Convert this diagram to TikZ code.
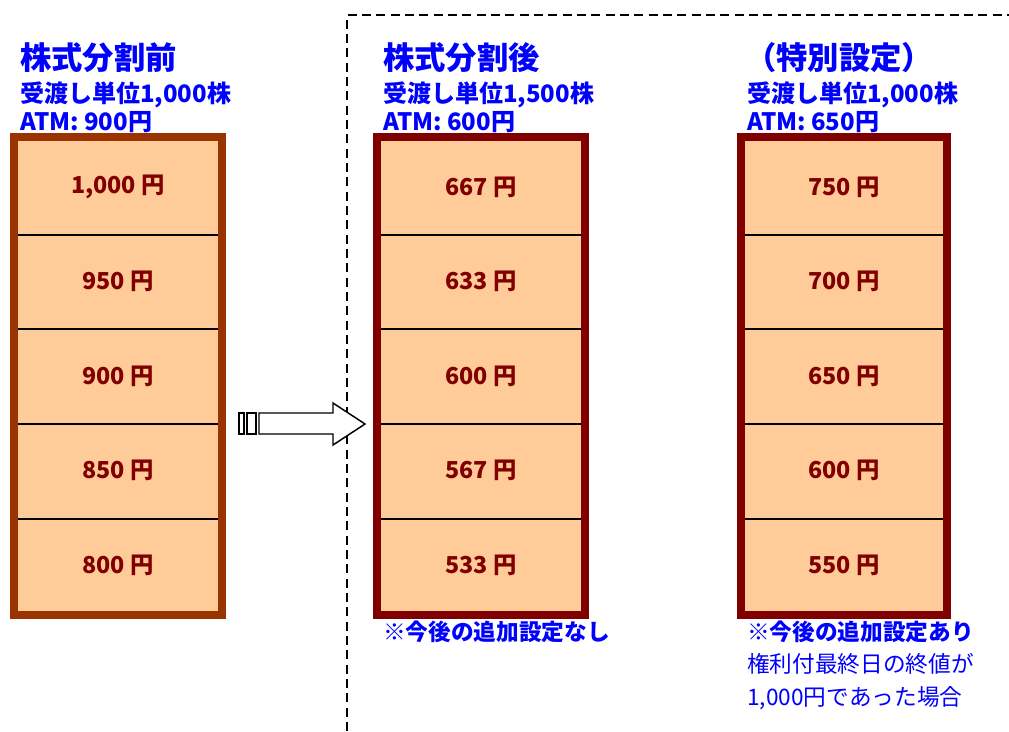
\documentclass[tikz,border=0pt]{standalone}
\usepackage{fontspec}
\setmainfont{Noto Sans CJK JP}
\definecolor{peach}{HTML}{FFCC99}
\definecolor{rust}{HTML}{993300}
\definecolor{maroon}{HTML}{800000}
\definecolor{pureblue}{HTML}{0000FF}
\tikzset{
  board/.style={fill=peach,line width=6pt},
  rowline/.style={line width=1.5pt,black},
  price/.style={text=maroon,font=\bfseries\fontsize{17.5}{20}\selectfont},
  headline/.style={anchor=base west,text=pureblue,inner sep=0pt,font=\bfseries\fontsize{23.5}{26}\selectfont},
  subline/.style={anchor=base west,text=pureblue,inner sep=0pt,font=\bfseries\fontsize{18}{20}\selectfont},
  noteline/.style={anchor=base west,text=pureblue,inner sep=0pt,font=\fontsize{17}{20}\selectfont},
}
\begin{document}
\begin{tikzpicture}[x=0.75pt,y=-0.75pt]
\useasboundingbox (0,0) rectangle (1009,731);
% partition line
\draw[line width=2pt,dash pattern=on 6.75pt off 4pt] (347,731)--(347,15)--(1009,15);
% headings
\node[headline] (ttlA) at (20,70) {株式分割前};
\node[subline] (lotA) at (20,103) {受渡し単位1,000株};
\node[subline] (atmA) at (20,131) {ATM: 900円};
\node[headline] (ttlB) at (383,70) {株式分割後};
\node[subline] (lotB) at (383,103) {受渡し単位1,500株};
\node[subline] (atmB) at (383,131) {ATM: 600円};
\node[headline] (ttlC) at (745,70) {（特別設定）};
\node[subline] (lotC) at (747,103) {受渡し単位1,000株};
\node[subline] (atmC) at (747,131) {ATM: 650円};
% before split
\draw[board,draw=rust] (14,137) rectangle (222,615);
\draw[rowline] (18,235)--(218,235) (18,329)--(218,329) (18,424)--(218,424) (18,519)--(218,519);
\node[price] (a1) at (118,187) {1,000 円};
\node[price] (a2) at (118,281) {950 円};
\node[price] (a3) at (118,376) {900 円};
\node[price] (a4) at (118,470) {850 円};
\node[price] (a5) at (118,565) {800 円};
% after split
\draw[board,draw=maroon] (377,137) rectangle (585,615);
\draw[rowline] (381,235)--(581,235) (381,329)--(581,329) (381,424)--(581,424) (381,519)--(581,519);
\node[price] (b1) at (481,187) {667 円};
\node[price] (b2) at (481,281) {633 円};
\node[price] (b3) at (481,376) {600 円};
\node[price] (b4) at (481,470) {567 円};
\node[price] (b5) at (481,565) {533 円};
% special setting
\draw[board,draw=maroon] (741,137) rectangle (947,615);
\draw[rowline] (745,235)--(943,235) (745,329)--(943,329) (745,424)--(943,424) (745,519)--(943,519);
\node[price] (c1) at (844,187) {750 円};
\node[price] (c2) at (844,281) {700 円};
\node[price] (c3) at (844,376) {650 円};
\node[price] (c4) at (844,470) {600 円};
\node[price] (c5) at (844,565) {550 円};
% arrow
\draw[fill=white,line width=1.1pt] (239,413) rectangle (244,434) (247,413) rectangle (256,434);
\draw[fill=white,line width=1.1pt] (259,413)--(333,413)--(333,403)--(365,424)--(333,445)--(333,434)--(259,434)--cycle;
% notes
\node[noteline,font=\bfseries\fontsize{17}{20}\selectfont] (noteB) at (383,640) {※今後の追加設定なし};
\node[noteline,font=\bfseries\fontsize{17}{20}\selectfont] (noteC) at (747,640) {※今後の追加設定あり};
\node[noteline] (condA) at (747,672) {権利付最終日の終値が};
\node[noteline] (condB) at (747,705) {1,000円であった場合};
\end{tikzpicture}
\end{document}
